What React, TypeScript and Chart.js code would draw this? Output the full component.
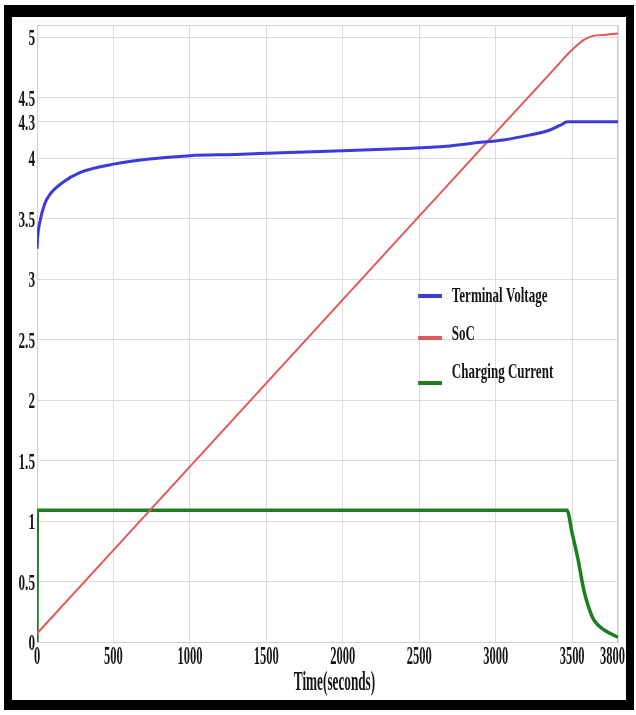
import { useEffect, useRef } from "react";
import { Chart, registerables } from "chart.js";

Chart.register(...registerables);

// ---- data ----
const xTickValues = [0, 500, 1000, 1500, 2000, 2500, 3000, 3500, 3800];
const xTickLabels = ["0", "500", "1000", "1500", "2000", "2500", "3000", "3500", "3800"];
const yTickValues = [0, 0.5, 1, 1.5, 2, 2.5, 3, 3.5, 4, 4.3, 4.5, 5];
const yTickLabels = ["0", "0.5", "1", "1.5", "2", "2.5", "3", "3.5", "4", "4.3", "4.5", "5"];
const xAxisTitle = "Time(seconds)";
const seriesLabels = ["Terminal Voltage", "SoC", "Charging Current"];
const seriesColors = ["#3b3bdc", "#e05858", "#1e7d1e"];

const voltageTime = [0, 5, 20, 50, 85, 170, 280, 500, 720, 1000, 1300, 1600, 2000, 2400, 2700, 2900, 3050, 3220, 3350, 3420, 3470, 3800];
const voltageValues = [3.25, 3.36, 3.48, 3.62, 3.7, 3.8, 3.88, 3.95, 3.99, 4.02, 4.03, 4.045, 4.06, 4.08, 4.1, 4.13, 4.15, 4.19, 4.23, 4.27, 4.3, 4.3];

const socTime = [0, 500, 1000, 1500, 2000, 2500, 3000, 3400, 3480, 3530, 3580, 3640, 3720, 3800];
const socValues = [0.07, 0.76, 1.45, 2.14, 2.83, 3.52, 4.21, 4.76, 4.87, 4.93, 4.98, 5.01, 5.02, 5.03];

const currentTime = [0, 2, 500, 1000, 1500, 2000, 2500, 3000, 3466, 3500, 3539, 3578, 3610, 3643, 3709, 3750, 3800];
const currentValues = [0, 1.09, 1.09, 1.09, 1.09, 1.09, 1.09, 1.09, 1.09, 0.9, 0.68, 0.42, 0.28, 0.18, 0.1, 0.07, 0.04];

const FONT = '"Liberation Serif", "Times New Roman", serif';
const TEXT = "#161616";

function zip(xs: number[], ys: number[]) {
  return xs.map((x, i) => ({ x, y: ys[i] }));
}

function squishText(
  ctx: CanvasRenderingContext2D,
  text: string,
  x: number,
  y: number,
  size: number,
  sx: number,
  align: CanvasTextAlign
) {
  ctx.save();
  ctx.font = `bold ${size}px ${FONT}`;
  ctx.fillStyle = TEXT;
  ctx.textAlign = align;
  ctx.textBaseline = "middle";
  ctx.translate(x, y);
  ctx.scale(sx, 1);
  ctx.fillText(text, 0, 0);
  ctx.restore();
}

const framePlugin = {
  id: "framePlugin",
  beforeDatasetsDraw(chart: any) {
    const { ctx, chartArea } = chart;
    ctx.save();
    ctx.strokeStyle = "#cfcfcf";
    ctx.lineWidth = 1;
    ctx.strokeRect(chartArea.left + 0.5, chartArea.top + 0.5, chartArea.right - chartArea.left - 1, chartArea.bottom - chartArea.top);
    ctx.restore();
  },
};

const textPlugin = {
  id: "textPlugin",
  afterDraw(chart: any) {
    const { ctx, chartArea } = chart;
    const xs = chart.scales.x;
    const ys = chart.scales.y;
    // y tick labels
    yTickValues.forEach((v, i) => {
      const py = ys.getPixelForValue(v);
      squishText(ctx, yTickLabels[i], chartArea.left - 2, py + 2, 24, 0.55, "right");
    });
    // x tick labels
    const rightLimit = chart.width - 1;
    xTickValues.forEach((v, i) => {
      const px = xs.getPixelForValue(v);
      ctx.save();
      ctx.font = `bold 26px ${FONT}`;
      const w = ctx.measureText(xTickLabels[i]).width * 0.48;
      ctx.restore();
      const cx = Math.min(px, rightLimit - w / 2);
      squishText(ctx, xTickLabels[i], cx, chartArea.bottom + 15, 26, 0.48, "center");
    });
    // axis title
    squishText(ctx, xAxisTitle, (chartArea.left + chartArea.right) / 2 + 7, chartArea.bottom + 41, 27, 0.49, "center");

    // legend inside the plot
    const aw = chartArea.right - chartArea.left;
    const lineX0 = chartArea.left + aw * 0.656;
    const lineX1 = chartArea.left + aw * 0.697;
    const textX = chartArea.left + aw * 0.714;
    const lineY = [296 - 17 - chartArea.top, 338 - 17 - chartArea.top, 383 - 17 - chartArea.top];
    const textY = [297 - 17 - chartArea.top, 335 - 17 - chartArea.top, 373 - 17 - chartArea.top];
    seriesLabels.forEach((label, i) => {
      const ly = chartArea.top + lineY[i];
      ctx.save();
      ctx.strokeStyle = seriesColors[i];
      ctx.lineWidth = 4;
      ctx.beginPath();
      ctx.moveTo(lineX0, ly);
      ctx.lineTo(lineX1, ly);
      ctx.stroke();
      ctx.restore();
      squishText(ctx, label, textX, chartArea.top + textY[i], 21, 0.62, "left");
    });
  },
};

export default function App() {
  const ref = useRef<HTMLCanvasElement | null>(null);

  useEffect(() => {
    if (!ref.current) return;
    const chart = new Chart(ref.current, {
      type: "line",
      data: {
        datasets: [
          {
            label: seriesLabels[0],
            data: zip(voltageTime, voltageValues),
            borderColor: seriesColors[0],
            borderWidth: 3,
            pointRadius: 0,
            cubicInterpolationMode: "monotone",
          },
          {
            label: seriesLabels[1],
            data: zip(socTime, socValues),
            borderColor: seriesColors[1],
            borderWidth: 2,
            pointRadius: 0,
            cubicInterpolationMode: "monotone",
          },
          {
            label: seriesLabels[2],
            data: zip(currentTime, currentValues),
            borderColor: seriesColors[2],
            borderWidth: 3.5,
            pointRadius: 0,
            cubicInterpolationMode: "monotone",
          },
        ],
      },
      options: {
        animation: false,
        responsive: false,
        events: [],
        layout: { padding: { left: 0, right: 8, top: 8, bottom: 0 } },
        plugins: { legend: { display: false }, tooltip: { enabled: false } },
        scales: {
          x: {
            type: "linear",
            min: 0,
            max: 3800,
            afterBuildTicks: (s: any) => {
              s.ticks = xTickValues.map((v) => ({ value: v }));
            },
            afterFit: (s: any) => {
              s.height = 58;
            },
            ticks: { display: false },
            grid: { color: "#dcdcdc", drawTicks: false, lineWidth: 1 },
            border: { display: true, color: "#c4c4c4" },
          },
          y: {
            type: "linear",
            min: 0,
            max: 5.1,
            afterBuildTicks: (s: any) => {
              s.ticks = yTickValues.map((v) => ({ value: v }));
            },
            afterFit: (s: any) => {
              s.width = 25;
            },
            ticks: { display: false },
            grid: { color: "#dcdcdc", drawTicks: false, lineWidth: 1 },
            border: { display: true, color: "#c4c4c4" },
          },
        },
      },
      plugins: [framePlugin, textPlugin],
    });
    return () => chart.destroy();
  }, []);

  return (
    <div style={{ position: "fixed", left: 0, top: 0, width: 636, height: 715, background: "#ffffff" }}>
      <div style={{ position: "absolute", left: 4, top: 5, width: 630, height: 705, background: "#000000" }} />
      <div style={{ position: "absolute", left: 12, top: 17, width: 614, height: 683, background: "#ffffff" }}>
        <canvas ref={ref} width={614} height={683} style={{ width: 614, height: 683, display: "block" }} />
      </div>
    </div>
  );
}
